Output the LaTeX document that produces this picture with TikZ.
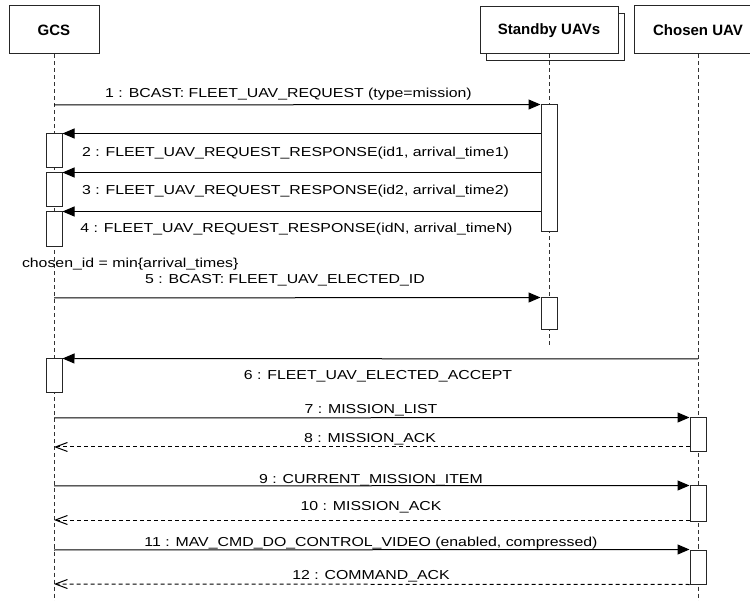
\documentclass[tikz,border=0pt]{standalone}
\usepackage{fontspec}
\setmainfont{Liberation Sans}
\newfontfamily\msgfont{Liberation Sans}[FakeStretch=1.22]
\usetikzlibrary{arrows.meta}
\begin{document}
\begin{tikzpicture}[x=1pt,y=-1pt,line width=1pt,
  head/.style={draw=black!85, fill=white, inner sep=0pt, minimum height=48pt, font=\fontsize{15}{18}\selectfont\bfseries},
  life/.style={draw=black!80, dash pattern=on 4pt off 3pt},
  bar/.style={draw=black!85, fill=white, inner sep=0pt, minimum width=16pt},
  sync/.style={draw=black, -{Triangle[length=12pt,width=10pt]}},
  ret/.style={draw=black, dash pattern=on 4pt off 3pt, -{Straight Barb[length=12pt,width=9pt]}},
  msg/.style={anchor=base, inner sep=0pt, font=\msgfont\fontsize{13}{15}\selectfont}]
\useasboundingbox (0,0) rectangle (750,601);
% heads
\node[head, minimum width=90pt] (gcs) at (54,30) {GCS};
\node[head, minimum width=138pt, minimum height=47pt] (sbsh) at (555,37.5) {};
\node[head, minimum width=138pt, minimum height=47pt] (sb) at (549,30.5) {Standby UAVs};
\node[head, minimum width=128pt] (ch) at (698,30) {Chosen UAV};
% lifeline ends
\coordinate (gcsbot) at (54,601);
\coordinate (sbbot) at (549,345);
\coordinate (chbot) at (698,601);
\draw[life] (gcs.south) -- (gcsbot);
\draw[life] (sb.south) -- (sbbot);
\draw[life] (ch.south) -- (chbot);
% activation bars
\node[bar, minimum height=127pt] (sbA) at (549,168.5) {};
\node[bar, minimum height=32pt] (sbB) at (549,314) {};
\node[bar, minimum height=34pt] (g1) at (54,151) {};
\node[bar, minimum height=34pt] (g2) at (54,190) {};
\node[bar, minimum height=35pt] (g3) at (54,229.5) {};
\node[bar, minimum height=34pt] (g4) at (54,376) {};
\node[bar, minimum height=34pt] (c1) at (698,435) {};
\node[bar, minimum height=35pt] (c2) at (698,503.5) {};
\node[bar, minimum height=34pt] (c3) at (698,567) {};
% message end points on lifelines
\coordinate (m1s) at (54,105);
\coordinate (m5s) at (54,298);
\coordinate (m6s) at (698,359);
\coordinate (m7s) at (54,418);
\coordinate (m8e) at (54,447);
\coordinate (m9s) at (54,486);
\coordinate (m10e) at (54,520);
\coordinate (m11s) at (54,550);
\coordinate (m12e) at (54,584);
% messages
\draw[sync] (m1s) -- (sbA.north west);
\node[msg] (t1) at (288.5,98) {1 : BCAST: FLEET\_UAV\_REQUEST (type=mission)};
\draw[sync] (sbA.west |- g1.north) -- (g1.north east);
\node[msg] (t2) at (295.5,156.5) {2 : FLEET\_UAV\_REQUEST\_RESPONSE(id1, arrival\_time1)};
\draw[sync] (sbA.west |- g2.north) -- (g2.north east);
\node[msg] (t3) at (295.5,195) {3 : FLEET\_UAV\_REQUEST\_RESPONSE(id2, arrival\_time2)};
\draw[sync] (sbA.west |- g3.north) -- (g3.north east);
\node[msg] (t4) at (296.5,233) {4 : FLEET\_UAV\_REQUEST\_RESPONSE(idN, arrival\_timeN)};
\node[msg, anchor=base west] (note) at (21.5,268) {chosen\_id = min\{arrival\_times\}};
\draw[sync] (m5s) -- (sbB.north west);
\node[msg] (t5) at (285,284) {5 : BCAST: FLEET\_UAV\_ELECTED\_ID};
\draw[sync] (m6s) -- (g4.north east);
\node[msg] (t6) at (378,380) {6 : FLEET\_UAV\_ELECTED\_ACCEPT};
\draw[sync] (m7s) -- (c1.north west);
\node[msg] (t7) at (371,414) {7 : MISSION\_LIST};
\draw[ret] (c1.west |- m8e) -- (m8e);
\node[msg] (t8) at (370,442.5) {8 : MISSION\_ACK};
\draw[sync] (m9s) -- (c2.north west);
\node[msg] (t9) at (371,483) {9 : CURRENT\_MISSION\_ITEM};
\draw[ret] (c2.west |- m10e) -- (m10e);
\node[msg] (t10) at (371,510.5) {10 : MISSION\_ACK};
\draw[sync] (m11s) -- (c3.north west);
\node[msg] (t11) at (371,546) {11 : MAV\_CMD\_DO\_CONTROL\_VIDEO (enabled, compressed)};
\draw[ret] (c3.south west) -- (m12e);
\node[msg] (t12) at (371,579) {12 : COMMAND\_ACK};
\end{tikzpicture}
\end{document}
